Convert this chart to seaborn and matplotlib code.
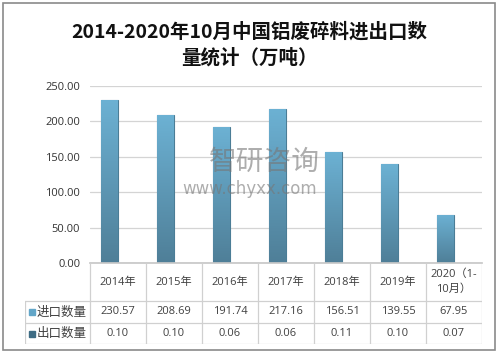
import numpy as np
import pandas as pd
import matplotlib
matplotlib.use("Agg")
import matplotlib.pyplot as plt
import seaborn as sns
from matplotlib.patches import Rectangle
from matplotlib.lines import Line2D

# data
years = ["2014年", "2015年", "2016年", "2017年", "2018年", "2019年", "2020（1-\n10月）"]
imports = [230.57, 208.69, 191.74, 217.16, 156.51, 139.55, 67.95]
exports = [0.10, 0.10, 0.06, 0.06, 0.11, 0.10, 0.07]
series = ["进口数量", "出口数量"]
yticks = [0, 50, 100, 150, 200, 250]
title = "2014-2020年10月中国铝废碎料进出口数\n量统计（万吨）"

df = pd.DataFrame({
    "year": years * 2,
    "value": imports + exports,
    "type": [series[0]] * len(years) + [series[1]] * len(years),
})

sns.set_theme(style="white")
plt.rcParams["font.family"] = ["Noto Sans CJK SC", "DejaVu Sans"]
num_font = ["Open Sans", "Noto Sans CJK SC"]

W, H = 499, 354
fig = plt.figure(figsize=(W / 100, H / 100), dpi=100)

# main bar area
ax = fig.add_axes([90 / W, 1 - 263 / H, 392 / W, 177 / H])
sns.barplot(data=df, x="year", y="value", hue="type", order=years,
            palette=["#62a6c8", "#3e6c84"], width=0.6, ax=ax, legend=False,
            edgecolor="#4b7d96", linewidth=0.8)

# gradient fill on the import bars
grad = np.linspace(1, 0, 100).reshape(-1, 1)
cmap = matplotlib.colors.LinearSegmentedColormap.from_list("b", ["#4f7f98", "#6cb1d3"])
for p in ax.patches:
    if p.get_height() > 1:
        x0, w, h = p.get_x(), p.get_width(), p.get_height()
        im = ax.imshow(grad, extent=[x0, x0 + w, 0, h], cmap=cmap, aspect="auto", zorder=p.get_zorder())
        im.set_clip_path(p)
ax.set_xlim(-0.5, len(years) - 0.5)
ax.set_ylim(0, 250)

ax.set_yticks(yticks)
ax.set_yticklabels([f"{v:.2f}" for v in yticks], fontsize=8, color="#333333", family=num_font)
ax.tick_params(axis="y", length=0, pad=7)
ax.set_xticks([])
ax.set_xlabel("")
ax.set_ylabel("")
ax.yaxis.grid(True, color="#d4d4d4", linewidth=0.9)
ax.set_axisbelow(True)
for s in ["top", "right", "left"]:
    ax.spines[s].set_visible(False)
ax.spines["bottom"].set_color("#c8c8c8")

# watermark
ax.text(0.446, 0.57, "智研咨询", transform=ax.transAxes, fontsize=20,
        color="#777777", alpha=0.6, ha="center", va="center")
ax.text(0.406, 0.418, "www.chyxx.com", transform=ax.transAxes, fontsize=12,
        color="#777777", alpha=0.6, ha="center", va="center", family="DejaVu Sans")

# data table under the axis
tab = fig.add_axes([25 / W, 1 - 344 / H, 457 / W, 81 / H])
lab_w = 65 / 56
tab.set_xlim(-0.5 - lab_w, len(years) - 0.5)
tab.set_ylim(81, 0)
tab.axis("off")
lc = "#d0d0d0"
rows_y = [0, 38, 60, 81]
xl = -0.5 - lab_w
for i in range(len(years) + 1):
    tab.add_line(Line2D([i - 0.5, i - 0.5], [0, 81], color=lc, lw=0.9))
tab.add_line(Line2D([xl, xl], [38, 81], color=lc, lw=0.9))
for y in rows_y[1:]:
    tab.add_line(Line2D([xl, len(years) - 0.5], [y, y], color=lc, lw=0.9))

tc = "#404040"
for i, yr in enumerate(years):
    tab.text(i, 19, yr, ha="center", va="center", fontsize=8, color=tc, linespacing=1.6, family=num_font)
    tab.text(i, 49, f"{imports[i]:.2f}", ha="center", va="center", fontsize=8, color=tc, family=num_font)
    tab.text(i, 70.5, f"{exports[i]:.2f}", ha="center", va="center", fontsize=8, color=tc, family=num_font)

for (yc, name, col) in [(49, series[0], "#62a6c8"), (70.5, series[1], "#3e6c84")]:
    tab.add_patch(Rectangle((xl + 0.08, yc - 3), 0.1, 6, color=col, clip_on=False))
    tab.text(xl + 0.21, yc, name, ha="left", va="center", fontsize=9, color=tc)

fig.text(0.5, 1 - 45 / H, title, ha="center", va="center", fontsize=14,
         color="#111111", linespacing=1.4, fontweight="bold")

fig.add_artist(Rectangle((2.5 / W, 4 / H), 492 / W, 347 / H, transform=fig.transFigure,
                         fill=False, edgecolor="#8a8a8a", lw=1.2))

fig.savefig("out.png", dpi=100)
